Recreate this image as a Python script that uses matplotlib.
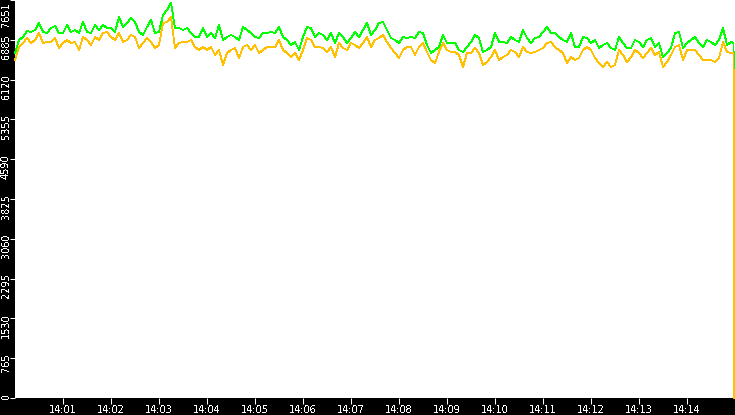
import numpy as np
import pandas as pd
import matplotlib
matplotlib.use("Agg")
import matplotlib.pyplot as plt
import matplotlib.dates as mdates

plt.rcParams['font.family'] = ['DejaVu Sans']
plt.rcParams['text.antialiased'] = False

# samples every 5 s from 14:00:00, then the last readings before the drop at the very end
t0 = pd.Timestamp("2024-01-01 14:00:00")
times = list(pd.date_range(t0, periods=180, freq="5s")) + [
    t0 + pd.Timedelta(seconds=898.2), t0 + pd.Timedelta(seconds=898.9)]

green = [
    6632, 6882, 6940, 7055, 7036, 7074, 7209, 7036, 7017, 7113, 7151, 7017, 7017,
    7170, 7036, 7074, 7017, 7228, 7036, 7017, 7170, 7074, 7170, 7113, 7113, 7036, 7324, 7132, 7209,
    7305, 7228, 7036, 6978, 7132, 7267, 7017, 7036, 7363,
    7459, 7593, 7113, 7113, 7074, 7113, 7017, 6940, 6940, 7113, 6940, 7017, 6920, 7170, 6882, 6940,
    6978, 6940, 6882, 7132, 7074, 7017, 6940, 6920, 7017, 7017, 7036, 7017, 7132, 6940, 6882, 6786,
    6844, 6690, 6940,
    7132, 7113, 6940, 7017, 6978, 6882, 7017, 6824, 7017, 6940, 6824, 6920, 7036, 6940, 7074, 7209,
    6978, 7074, 7209, 7228, 7074, 6920, 6882, 6824, 6940, 6920, 6940, 6920, 7036, 7017, 6786, 6632,
    6690, 6747, 6978, 6824, 6824,
    6824, 6690, 6651, 6747, 6844, 6978, 6920, 6651, 6690, 6747, 7017, 6844, 6844, 6824, 6940, 6882,
    6844, 7074, 6920, 6824, 6920, 6940, 7036, 7132, 7017, 7017, 6940, 6882, 6844, 7017, 6747, 6747,
    6940, 6920, 6824, 6882, 6728,
    6786, 6824, 6728, 6690, 6940, 6824, 6728, 6728, 6882, 6844, 6747, 6882, 6920, 6747, 6824, 6555,
    6632, 6728, 7017, 7036, 6728, 6824, 6882, 6940, 6824, 6747, 6882, 6844, 6786, 6882, 7113, 6786,
    6844, 6824, 3360,
]

orange = [
    6498, 6747, 6824, 6920, 6824, 6882, 7017, 6824, 6844, 6844, 6920, 6728, 6824,
    6882, 6824, 6844, 6690, 6940, 6882, 6786, 6940, 6882, 7017, 7036, 6940, 6882, 7017, 6844, 6882,
    6978, 6940, 6728, 6824, 6920, 6844, 6728, 6786, 7209,
    7228, 7324, 6728, 6824, 6844, 6844, 6882, 6747, 6690, 6747, 6690, 6747, 6594, 6690, 6402, 6632,
    6690, 6728, 6536, 6747, 6786, 6690, 6786, 6632, 6690, 6747, 6747, 6747, 6882, 6690, 6632, 6555,
    6632, 6498, 6690,
    6920, 6882, 6747, 6747, 6728, 6651, 6747, 6555, 6824, 6728, 6690, 6824, 6786, 6728, 6824, 6940,
    6747, 6882, 6920, 6978, 6844, 6728, 6632, 6536, 6690, 6747, 6747, 6594, 6747, 6824, 6651, 6498,
    6440, 6651, 6824, 6690, 6651,
    6651, 6594, 6363, 6632, 6632, 6728, 6632, 6402, 6459, 6555, 6690, 6498, 6555, 6594, 6690, 6651,
    6555, 6747, 6651, 6632, 6651, 6690, 6728, 6824, 6844, 6747, 6690, 6632, 6440, 6555, 6498, 6536,
    6690, 6747, 6690, 6536, 6440,
    6363, 6459, 6363, 6402, 6690, 6594, 6459, 6555, 6690, 6632, 6536, 6632, 6728, 6594, 6651, 6363,
    6459, 6594, 6747, 6786, 6498, 6690, 6690, 6690, 6594, 6498, 6498, 6498, 6459, 6536, 6844, 6651,
    6632, 6632, 0,
]

yticks = [0, 765, 1530, 2295, 3060, 3825, 4590, 5355, 6120, 6885, 7651]
xtick_minutes = list(range(1, 15))

fig = plt.figure(figsize=(7.35, 4.15), dpi=100, facecolor='black')
ax = fig.add_axes([15 / 735, 17 / 415, 720 / 735, 398 / 415])
ax.set_facecolor('white')

ax.plot(times, green, color='#00ff00', lw=0.6, antialiased=False, clip_on=False)
ax.plot(times, orange, color='#ffc000', lw=0.6, antialiased=False, clip_on=False)

ax.set_xlim(t0, t0 + pd.Timedelta(minutes=15))
ax.set_ylim(0, yticks[-1])

for s in ax.spines.values():
    s.set_visible(False)

ax.set_xticks([t0 + pd.Timedelta(minutes=m) for m in xtick_minutes])
ax.xaxis.set_major_formatter(mdates.DateFormatter('%H:%M'))
ax.tick_params(axis='x', colors='white', length=4.5, width=0.75, pad=0.8, labelsize=7)

ax.set_yticks(yticks, labels=[])
ax.tick_params(axis='y', colors='white', length=3.5, width=0.75)
for v in yticks:
    dy = 5 if v < yticks[-1] else -2
    ax.annotate(str(v), xy=(0, v), xycoords=('axes fraction', 'data'),
                xytext=(-4, dy), textcoords='offset pixels',
                rotation=90, ha='right', va='top', color='white', fontsize=7,
                annotation_clip=False)

fig.savefig('out.png', dpi=100, facecolor='black')
